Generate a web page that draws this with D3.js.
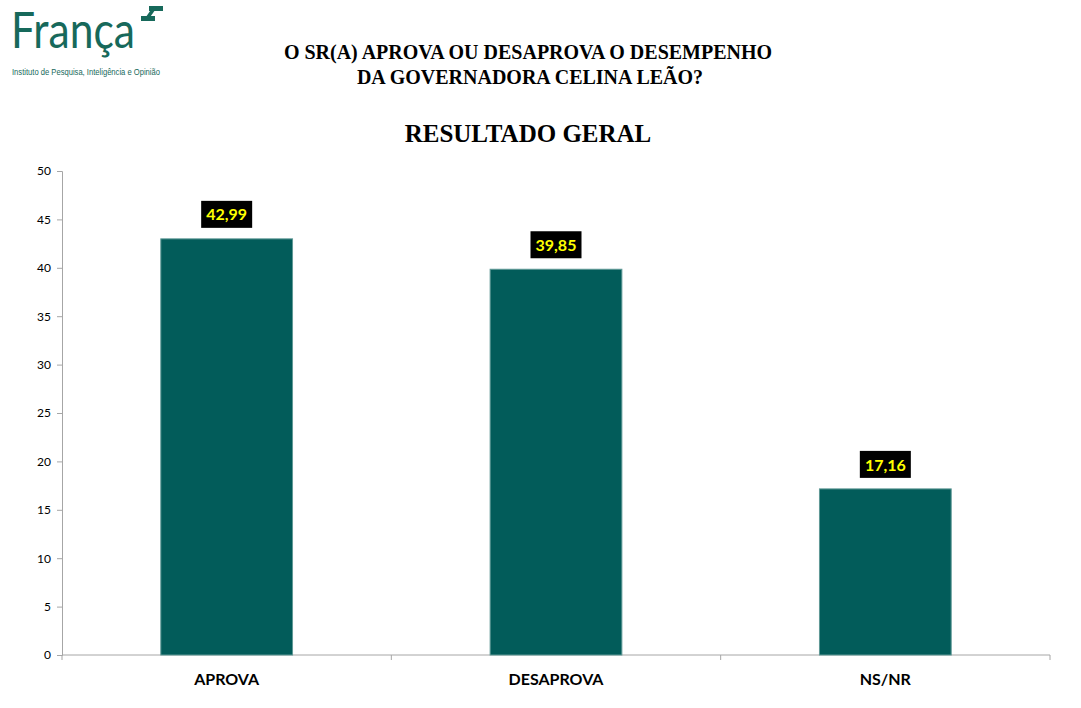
<!DOCTYPE html>
<html>
<head>
<meta charset="utf-8">
<script src="https://cdn.jsdelivr.net/npm/d3@7"></script>
<style>
  body { margin: 0; background: #ffffff; }
  svg { display: block; }
</style>
</head>
<body>
<div id="grafico"></div>
<script>
// Dados do gráfico
var categorias = ["APROVA", "DESAPROVA", "NS/NR"];
var valores = [42.99, 39.85, 17.16];
var ticksY = [0, 5, 10, 15, 20, 25, 30, 35, 40, 45, 50];

var width = 1081;
var height = 708;

var svg = d3.select("#grafico")
    .append("svg")
    .attr("width", width)
    .attr("height", height);

// Logo
var corLogo = "#17695b";
var logo = svg.append("g");
logo.append("text")
    .attr("x", 11)
    .attr("y", 48)
    .attr("font-family", "Lato, 'DejaVu Sans', sans-serif")
    .attr("font-size", 50)
    .attr("textLength", 124)
    .attr("lengthAdjust", "spacingAndGlyphs")
    .attr("fill", corLogo)
    .text("França");
logo.append("rect").attr("x", 149).attr("y", 6).attr("width", 14).attr("height", 5).attr("fill", corLogo);
logo.append("rect").attr("x", 141).attr("y", 16).attr("width", 14).attr("height", 5).attr("fill", corLogo);
logo.append("path")
    .attr("d", "M146,20 L155,7")
    .attr("stroke", corLogo)
    .attr("stroke-width", 3.5);
logo.append("text")
    .attr("x", 12)
    .attr("y", 75)
    .attr("font-family", "'Liberation Sans', sans-serif")
    .attr("font-size", 9)
    .attr("textLength", 148)
    .attr("lengthAdjust", "spacingAndGlyphs")
    .attr("fill", corLogo)
    .text("Instituto de Pesquisa, Inteligência e Opinião");

// Títulos
var titulo = svg.append("g")
    .attr("font-family", "'Liberation Serif', 'Times New Roman', serif")
    .attr("font-weight", "bold")
    .attr("text-anchor", "middle")
    .attr("fill", "#000");
titulo.append("text").attr("x", 528).attr("y", 59).attr("font-size", 20)
    .text("O SR(A) APROVA OU DESAPROVA O DESEMPENHO");
titulo.append("text").attr("x", 530).attr("y", 84).attr("font-size", 20)
    .text("DA GOVERNADORA CELINA LEÃO?");
titulo.append("text").attr("x", 528).attr("y", 142).attr("font-size", 25)
    .text("RESULTADO GERAL");

// Escalas
var margem = { left: 62, right: 1050, top: 171, bottom: 655 };

var x = d3.scaleBand()
    .domain(categorias)
    .range([margem.left, margem.right])
    .paddingInner(0.6)
    .paddingOuter(0.3);

var y = d3.scaleLinear()
    .domain([0, 50])
    .range([margem.bottom, margem.top]);

// Eixo Y
var eixoY = svg.append("g")
    .attr("transform", "translate(" + margem.left + ",0)")
    .call(d3.axisLeft(y).tickValues(ticksY).tickSize(5).tickPadding(6));
eixoY.selectAll("path, line").attr("stroke", "#a6a6a6");
eixoY.selectAll("text")
    .attr("font-family", "Lato, 'Liberation Sans', sans-serif")
    .attr("font-size", 12)
    .attr("fill", "#000");

// Eixo X com marcas entre categorias
var eixoX = svg.append("g");
eixoX.append("line")
    .attr("x1", margem.left).attr("x2", margem.right)
    .attr("y1", y(0)).attr("y2", y(0))
    .attr("stroke", "#a6a6a6");
var limites = [margem.left].concat(categorias.map(function(c) {
    return x(c) + x.bandwidth() + x.step() * x.paddingInner() / 2;
}));
limites[limites.length - 1] = margem.right;
eixoX.selectAll(".marca")
    .data(limites)
    .enter()
    .append("line")
    .attr("x1", function(d) { return d; })
    .attr("x2", function(d) { return d; })
    .attr("y1", y(0))
    .attr("y2", y(0) + 5)
    .attr("stroke", "#a6a6a6");

eixoX.selectAll(".rotulo")
    .data(categorias)
    .enter()
    .append("text")
    .attr("x", function(d) { return x(d) + x.bandwidth() / 2; })
    .attr("y", 685)
    .attr("text-anchor", "middle")
    .attr("font-family", "Lato, 'Liberation Sans', sans-serif")
    .attr("font-weight", "bold")
    .attr("font-size", 16)
    .attr("fill", "#000")
    .text(function(d) { return d; });

// Barras
svg.selectAll(".barra")
    .data(valores)
    .enter()
    .append("rect")
    .attr("x", function(d, i) { return x(categorias[i]); })
    .attr("y", function(d) { return y(d); })
    .attr("width", x.bandwidth())
    .attr("height", function(d) { return y(0) - y(d); })
    .attr("fill", "#025c5a")
    .attr("stroke", "#5f9996")
    .attr("stroke-width", 1);

// Rótulos de valor
var formato = function(v) { return v.toFixed(2).replace(".", ","); };
var rotulos = svg.selectAll(".valor")
    .data(valores)
    .enter()
    .append("g")
    .attr("transform", function(d, i) {
        return "translate(" + (x(categorias[i]) + x.bandwidth() / 2) + "," + (y(d) - 24) + ")";
    });
rotulos.append("rect")
    .attr("x", -25.5)
    .attr("y", -14)
    .attr("width", 51)
    .attr("height", 27)
    .attr("fill", "#000");
rotulos.append("text")
    .attr("text-anchor", "middle")
    .attr("dy", "0.35em")
    .attr("font-family", "Lato, 'Liberation Sans', sans-serif")
    .attr("font-weight", "bold")
    .attr("font-size", 16)
    .attr("fill", "#ffff00")
    .text(function(d) { return formato(d); });
</script>
</body>
</html>
